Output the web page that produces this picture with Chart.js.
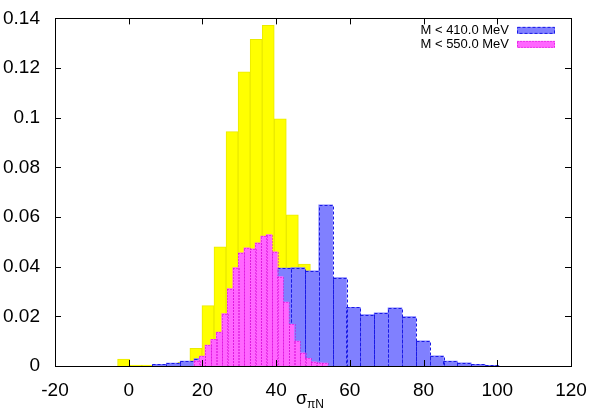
<!DOCTYPE html>
<html>
<head>
<meta charset="utf-8">
<script src="https://cdn.jsdelivr.net/npm/chart.js@4.4.1/dist/chart.umd.min.js"></script>
<style>
html, body { margin: 0; padding: 0; background: #fff; }
#wrap { width: 593px; height: 412px; }
</style>
</head>
<body>
<div id="wrap"><canvas id="hist"></canvas></div>
<script>
var xTicks = [-20, 0, 20, 40, 60, 80, 100, 120];
var yTicks = [0, 0.02, 0.04, 0.06, 0.08, 0.1, 0.12, 0.14];

// full sample (yellow, no key entry)
var allCenters = [-1.39, 1.88, 5.15, 8.42, 11.69, 14.96, 18.23, 21.50, 24.77, 28.04, 31.31, 34.58, 37.85, 41.12, 44.39, 47.66, 50.93, 54.20, 57.47, 60.74, 64.01, 67.28];
var allValues = [0.0028, 0.0004, 0.0004, 0.0003, 0.0005, 0.0015, 0.0071, 0.0243, 0.048, 0.0944, 0.1185, 0.1316, 0.1372, 0.0996, 0.0609, 0.041, 0.028, 0.016, 0.008, 0.004, 0.002, 0.001];

// M < 410 MeV
var lowCenters = [8.32, 12.08, 15.84, 19.60, 23.36, 27.12, 30.88, 34.64, 38.40, 42.16, 45.92, 49.68, 53.44, 57.20, 60.96, 64.72, 68.48, 72.24, 76.00, 79.76, 83.52, 87.28, 91.04, 94.80, 98.56];
var lowValues = [0.0007, 0.0012, 0.002, 0.003, 0.006, 0.012, 0.02, 0.028, 0.035, 0.0394, 0.0396, 0.0383, 0.0649, 0.0356, 0.0236, 0.0207, 0.0214, 0.0234, 0.0199, 0.0101, 0.0041, 0.002, 0.0013, 0.0007, 0.0003];

// M < 550 MeV
var highCenters = [18.44, 19.95, 21.46, 22.97, 24.48, 25.99, 27.50, 29.01, 30.52, 32.03, 33.54, 35.05, 36.56, 38.07, 39.58, 41.09, 42.60, 44.11, 45.62, 47.13, 48.64, 50.15, 51.66, 53.17];
var highValues = [0.0022, 0.004, 0.0084, 0.0107, 0.0137, 0.0211, 0.0312, 0.0396, 0.0456, 0.0476, 0.0472, 0.0496, 0.0523, 0.0529, 0.046, 0.036, 0.0257, 0.0168, 0.01, 0.0053, 0.0031, 0.0017, 0.0013, 0.0012];

var keyLabels = ['M < 410.0 MeV', 'M < 550.0 MeV'];

function pts(cs, vs) {
  return cs.map(function(c, i) { return {x: c, y: vs[i]}; });
}

var font = '"Liberation Sans", Arial, Helvetica, sans-serif';

// gnuplot style dashed bar outlines
var barEdges = {
  id: 'barEdges',
  afterDatasetDraw: function(chart, args) {
    var ds = chart.data.datasets[args.index];
    if (!ds.edgeDash) return;
    var ctx = chart.ctx;
    ctx.save();
    ctx.strokeStyle = ds.edgeColor;
    ctx.lineWidth = 1;
    ctx.setLineDash(ds.edgeDash);
    args.meta.data.forEach(function(bar) {
      var p = bar.getProps(['x', 'y', 'base', 'width'], true);
      if (p.base - p.y < 0.5) return;
      ctx.strokeRect(Math.round(p.x - p.width / 2) + 0.5, Math.round(p.y) + 0.5,
        Math.round(p.width), Math.round(p.base - p.y));
    });
    ctx.restore();
  }
};

// box + inward mirrored ticks
var frame = {
  id: 'frame',
  afterDatasetsDraw: function(chart) {
    var a = chart.chartArea, ctx = chart.ctx, sx = chart.scales.x, sy = chart.scales.y, len = 6;
    ctx.save();
    ctx.strokeStyle = '#000';
    ctx.lineWidth = 1;
    ctx.beginPath();
    xTicks.forEach(function(v) {
      var px = Math.round(sx.getPixelForValue(v)) + 0.5;
      ctx.moveTo(px, a.bottom); ctx.lineTo(px, a.bottom - len);
      ctx.moveTo(px, a.top); ctx.lineTo(px, a.top + len);
    });
    yTicks.forEach(function(v) {
      var py = Math.round(sy.getPixelForValue(v)) + 0.5;
      ctx.moveTo(a.left, py); ctx.lineTo(a.left + len, py);
      ctx.moveTo(a.right, py); ctx.lineTo(a.right - len, py);
    });
    ctx.stroke();
    ctx.strokeRect(Math.round(a.left) + 0.5, Math.round(a.top) + 0.5,
      Math.round(a.right - a.left), Math.round(a.bottom - a.top));
    ctx.restore();
  }
};

// key in the top right corner, axis title with subscript
var keyAndTitle = {
  id: 'keyAndTitle',
  afterDraw: function(chart) {
    var a = chart.chartArea, ctx = chart.ctx;
    ctx.save();
    keyLabels.forEach(function(label, i) {
      var ds = chart.data.datasets.find(function(d) { return d.label === label; });
      var yy = a.top + 12 + i * 14;
      ctx.font = '13px ' + font;
      ctx.fillStyle = '#000';
      ctx.textAlign = 'right';
      ctx.textBaseline = 'middle';
      ctx.fillText(label, a.right - 62, yy);
      ctx.fillStyle = ds.backgroundColor;
      ctx.fillRect(a.right - 54, yy - 3.5, 38, 7);
      ctx.strokeStyle = ds.edgeColor;
      ctx.lineWidth = 1;
      ctx.setLineDash(ds.edgeDash);
      ctx.strokeRect(a.right - 53.5, yy - 3, 37, 6);
      ctx.setLineDash([]);
    });
    ctx.fillStyle = '#000';
    ctx.textAlign = 'left';
    ctx.textBaseline = 'alphabetic';
    ctx.font = '18px ' + font;
    var w1 = ctx.measureText('σ').width;
    ctx.font = '12px ' + font;
    var w2 = ctx.measureText('πN').width;
    var x0 = (a.left + a.right) / 2 - (w1 + w2) / 2 - 3;
    ctx.font = '18px ' + font;
    ctx.fillText('σ', x0, 404);
    ctx.font = '12px ' + font;
    ctx.fillText('πN', x0 + w1, 408);
    ctx.restore();
  }
};

function setX(scale) {
  scale.ticks = xTicks.map(function(v) { return {value: v}; });
}

function hiddenX() {
  return {type: 'linear', min: -20, max: 120, offset: false, display: false, afterBuildTicks: setX};
}

new Chart(document.getElementById('hist'), {
  type: 'bar',
  data: {
    datasets: [{
      label: keyLabels[1],
      data: pts(highCenters, highValues),
      xAxisID: 'x3',
      order: 0,
      backgroundColor: '#ff66ff',
      borderWidth: 0,
      edgeColor: '#d500d5',
      edgeDash: [1, 2]
    }, {
      label: keyLabels[0],
      data: pts(lowCenters, lowValues),
      xAxisID: 'x2',
      order: 1,
      backgroundColor: '#8080ff',
      borderWidth: 0,
      edgeColor: '#1a1ae6',
      edgeDash: [3, 2]
    }, {
      data: pts(allCenters, allValues),
      xAxisID: 'x',
      order: 2,
      backgroundColor: '#ffff00',
      borderColor: '#eaea00',
      borderWidth: 1
    }]
  },
  options: {
    responsive: true,
    maintainAspectRatio: false,
    animation: false,
    grouped: false,
    barPercentage: 1,
    categoryPercentage: 1,
    layout: {padding: {left: 0, right: 22, top: 15, bottom: 0}},
    plugins: {
      legend: {display: false},
      tooltip: {enabled: false}
    },
    scales: {
      x: {
        type: 'linear', min: -20, max: 120,
        offset: false,
        afterBuildTicks: setX,
        afterFit: function(scale) { scale.height = 46; },
        grid: {display: false},
        border: {display: false},
        ticks: {
          padding: 5,
          color: '#000',
          font: {family: font, size: 19},
          maxRotation: 0,
          callback: function(v) { return String(v); }
        }
      },
      x2: hiddenX(),
      x3: hiddenX(),
      y: {
        min: 0, max: 0.14,
        afterBuildTicks: function(scale) {
          scale.ticks = yTicks.map(function(v) { return {value: v}; });
        },
        afterFit: function(scale) { scale.width = 55; },
        grid: {display: false},
        border: {display: false},
        ticks: {
          padding: 7,
          color: '#000',
          font: {family: font, size: 19},
          callback: function(v) { return String(+v.toFixed(2)); }
        }
      }
    }
  },
  plugins: [barEdges, frame, keyAndTitle]
});
</script>
</body>
</html>
